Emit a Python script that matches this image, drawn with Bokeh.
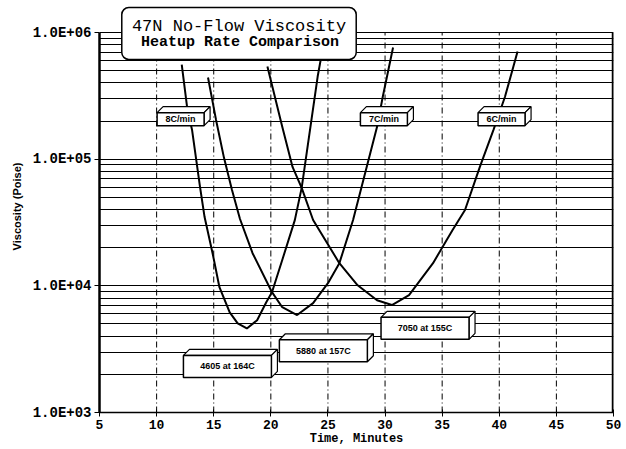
from bokeh.plotting import figure
from bokeh.models import FixedTicker, Label
from bokeh.embed import file_html
from bokeh.resources import INLINE
from bokeh.core.properties import value

# ---------------- data ----------------
time_8 = [12.2, 12.7, 13.1, 13.8, 14.2, 14.9, 15.5, 16.4, 17.1, 17.9, 18.8, 19.6, 20.1, 21.0, 22.1, 22.7, 24.1, 24.4]
visc_8 = [558000, 245000, 171000, 60400, 34900, 18100, 9750, 6180, 5060, 4605, 5350, 7410, 8900, 16000, 33000, 59300, 449000, 634000]

time_7 = [14.5, 15.2, 15.9, 16.6, 17.3, 18.4, 20.1, 21.0, 22.3, 23.7, 25.0, 26.0, 27.2, 29.3, 29.8, 30.7]
visc_7 = [441000, 205000, 102400, 57100, 33700, 18100, 8910, 6780, 5880, 7300, 10500, 15100, 33100, 180000, 311000, 761000]

time_6 = [19.7, 21.0, 21.9, 22.7, 23.7, 26.0, 27.6, 29.3, 30.6, 32.1, 34.2, 35.9, 37.0, 38.3, 39.5, 40.5, 41.6]
visc_6 = [538000, 180000, 86900, 59300, 33100, 15100, 10100, 7690, 7050, 8440, 15100, 27500, 39700, 86900, 171000, 311000, 708000]

x_ticks = [5, 10, 15, 20, 25, 30, 35, 40, 45, 50]
y_ticks = [1e3, 1e4, 1e5, 1e6]
y_tick_labels = ["1.0E+03", "1.0E+04", "1.0E+05", "1.0E+06"]
y_minor = [k * 10 ** e for e in (3, 4, 5) for k in range(2, 10)]

rate_labels = ["8C/min", "7C/min", "6C/min"]
rate_label_x = [12.1, 29.9, 40.2]
rate_label_y = [207000, 207000, 207000]

min_labels = ["4605 at 164C", "5880 at 157C", "7050 at 155C"]
min_label_x = [16.2, 24.6, 33.5]
min_label_y = [2310, 3070, 4620]

title_1 = "47N No-Flow Viscosity"
title_2 = "Heatup Rate Comparison"
x_title = "Time, Minutes"
y_title = "Viscosity (Poise)"

# ---------------- layout ----------------
W, H = 622, 449
ML, MR, MB = 99, 9, 37
TOP_PAD = 32                  # pixels of frame above the 1e6 line (room for the title box)
FW = W - ML - MR
FH_DATA = H - MB - TOP_PAD    # pixels spanned by 1e3..1e6
X0, X1 = 5, 50
Y0, Y1 = 1e3, 1e6
xpp = (X1 - X0) / FW          # data units per pixel
dpp = 3.0 / FH_DATA           # decades per pixel


def sx(x, px):
    return x + px * xpp


def sy(y, px):
    return y * 10 ** (px * dpp)


p = figure(width=W, height=H, y_axis_type="log", x_range=(X0, X1), y_range=(Y0, sy(Y1, TOP_PAD)),
           output_backend="svg", toolbar_location=None,
           min_border_left=ML, min_border_right=MR, min_border_top=0, min_border_bottom=MB)
p.background_fill_color = "white"
p.border_fill_color = "white"
p.outline_line_color = None

# axes
p.xaxis.ticker = FixedTicker(ticks=x_ticks, minor_ticks=[])
p.yaxis.ticker = FixedTicker(ticks=y_ticks, minor_ticks=y_minor)
p.yaxis.bounds = (Y0, Y1)
p.yaxis.major_label_overrides = {int(t): s for t, s in zip(y_ticks, y_tick_labels)}
for ax in (p.xaxis, p.yaxis):
    ax.axis_line_color = "black"
    ax.major_tick_line_color = "black"
    ax.minor_tick_line_color = "black"
    ax.major_label_text_color = "black"
    ax.major_label_text_font = "Liberation Mono"
    ax.major_label_text_font_style = "bold"
p.yaxis.axis_line_width = 2.5
p.yaxis.major_tick_out = 5
p.yaxis.major_tick_in = 0
p.yaxis.minor_tick_out = 0
p.yaxis.minor_tick_in = 3
p.yaxis.major_label_text_font_size = "14px"
p.yaxis.major_label_standoff = 3
p.yaxis.axis_label = y_title
p.yaxis.axis_label_text_font = "Liberation Sans"
p.yaxis.axis_label_text_font_style = "bold"
p.yaxis.axis_label_text_font_size = "11px"
p.yaxis.axis_label_text_color = "black"
p.yaxis.axis_label_standoff = 7

p.xaxis.axis_line_width = 1.5
p.xaxis.major_tick_out = 4
p.xaxis.major_tick_in = 3
p.xaxis.major_label_text_font_size = "13px"
p.xaxis.major_label_standoff = 3
p.xaxis.axis_label = x_title
p.xaxis.axis_label_text_font = "Liberation Mono"
p.xaxis.axis_label_text_font_style = "bold"
p.xaxis.axis_label_text_font_size = "12px"
p.xaxis.axis_label_text_color = "black"
p.xaxis.axis_label_standoff = 0

# grids
p.ygrid.grid_line_color = "black"
p.ygrid.grid_line_width = 1
p.ygrid.minor_grid_line_color = "black"
p.ygrid.minor_grid_line_width = 1
p.xgrid.visible = False
inner = x_ticks[1:-1]
p.segment(x0=inner, y0=[Y0] * len(inner), x1=inner, y1=[Y1] * len(inner),
          line_color="black", line_width=1, line_dash="6 3 1 3")
# right border of the plotting area
p.segment(x0=[X1], y0=[Y0], x1=[X1], y1=[Y1], line_color="black", line_width=3.5)

# curves
for t, v in ((time_8, visc_8), (time_7, visc_7), (time_6, visc_6)):
    p.line(t, v, line_color="black", line_width=2)


# 3D label boxes
def box3d(cx, cy, bw, bh, txt, depth=6):
    l, r = sx(cx, -bw / 2), sx(cx, bw / 2)
    b, t = sy(cy, -bh / 2), sy(cy, bh / 2)
    xs = [[l, sx(l, depth), sx(r, depth), r], [r, sx(r, depth), sx(r, depth), r]]
    ys = [[t, sy(t, depth), sy(t, depth), t], [t, sy(t, depth), sy(b, depth), b]]
    p.patches(xs, ys, fill_color="white", line_color="black", line_width=1.2)
    p.quad(left=[l], right=[r], bottom=[b], top=[t], fill_color="white",
           line_color="black", line_width=1.5)
    p.text([cx], [cy], text=[txt], text_align="center", text_baseline="middle",
           text_font=value("Liberation Sans"), text_font_style="bold",
           text_font_size="9px", text_color="black")


for x, y, s in zip(rate_label_x, rate_label_y, rate_labels):
    box3d(x, y, 47, 13, s)
for x, y, s in zip(min_label_x, min_label_y, min_labels):
    box3d(x, y, 88, 22, s)

# title box
tx = sx(X0, 139.5)
ty = sy(Y1, -1)
p.add_layout(Label(x=tx, y=ty, text=title_2 + "\n" + title_2, text_color="white",
                   text_font="Liberation Mono", text_font_size="17px",
                   text_align="center", text_baseline="middle",
                   background_fill_color="white", border_line_color="black",
                   border_line_width=1.5, border_radius=7, padding=5))
p.add_layout(Label(x=tx, y=sy(Y1, 6), text=title_1, text_font="Liberation Mono",
                   text_font_size="17px", text_align="center", text_baseline="middle",
                   text_color="black"))
p.add_layout(Label(x=sx(tx, 1), y=sy(Y1, -10), text=title_2, text_font="Liberation Mono",
                   text_font_size="15px", text_font_style="bold", text_align="center",
                   text_baseline="middle", text_color="black"))

open("out.html", "w").write(file_html(p, INLINE))
